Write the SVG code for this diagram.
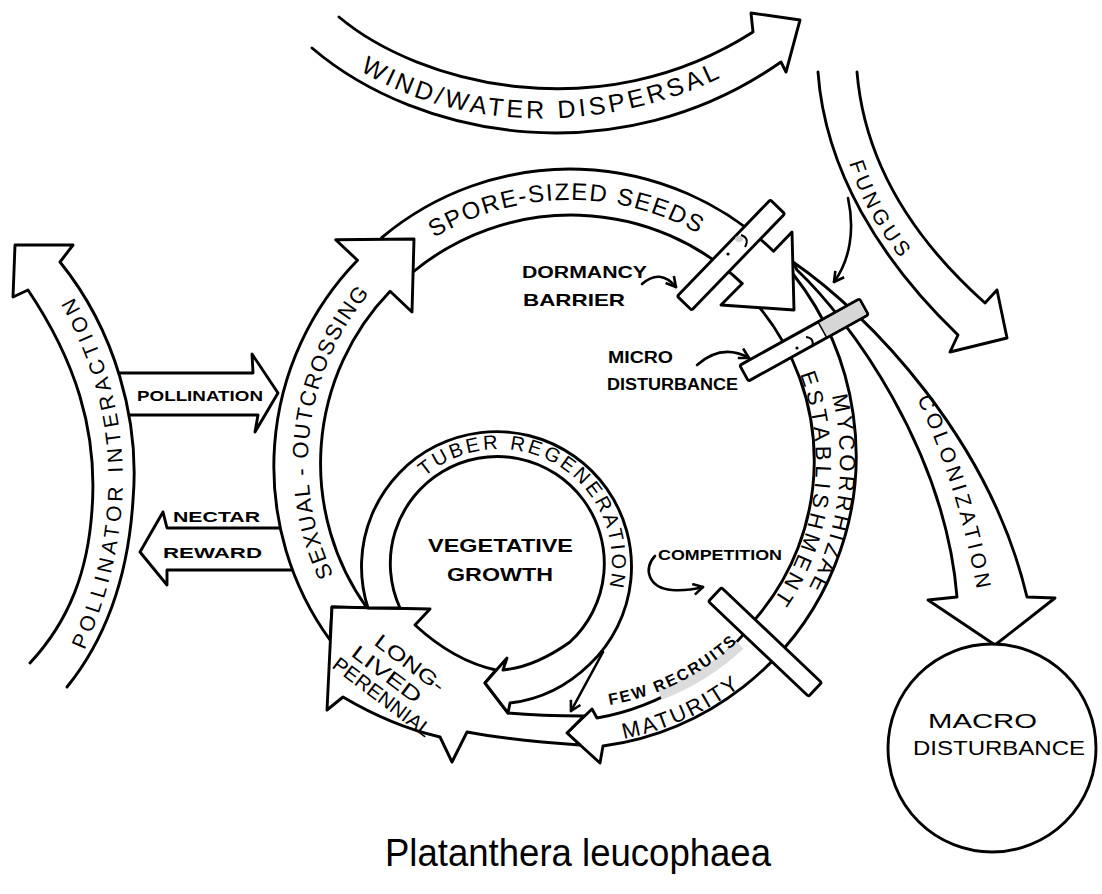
<svg xmlns="http://www.w3.org/2000/svg" width="1102" height="894" viewBox="0 0 1102 894">
<style>
.ln{fill:#fff;stroke:#000;stroke-width:2.9;stroke-linejoin:round;stroke-linecap:round}
.cn{fill:none;stroke:#000;stroke-width:2.6;stroke-linecap:round}
.t{font-family:"Liberation Sans",Arial,sans-serif;fill:#000}
.b{font-weight:bold}
</style>
<defs>
<marker id="ah" viewBox="0 0 12 12" refX="10" refY="6" markerWidth="13" markerHeight="13" markerUnits="userSpaceOnUse" orient="auto">
<path d="M1,1 L10,6 L1,11" fill="none" stroke="#000" stroke-width="2.4" stroke-linejoin="round"/>
</marker>
<path id="pWind" d="M 345,60 C 430,123 590,148 740,68"/>
<path id="pFun" d="M 843,140 Q 862,225 930,290"/>
<path id="pCol" d="M 890,350 C 928,410 965,505 982,620"/>
<path id="pPol" d="M 80,660 Q 172,460 66,284"/>
<path id="pSex" d="M 343.1,593 A 262 262 0 0 1 408.7,255.5"/>
<path id="pSpore" d="M 408.7,255.5 A 262 262 0 0 1 738.4,261.3"/>
<path id="pMyc1" d="M 776.8,288.4 A 270 270 0 0 1 743.6,668.8"/>
<path id="pMyc2" d="M 758.4,303.9 A 246 246 0 0 1 728.1,650.4"/>
<path id="pMat" d="M 545.4,742.9 A 282 282 0 0 0 786,643.3"/>
<path id="pFew" d="M 548.6,707.1 A 246 246 0 0 0 771.5,603.1"/>
<path id="pTub" d="M 392.8,523.4 A 113 113 0 1 1 585.6,634.6"/>
</defs>

<g id="wind-water-dispersal">
<path class="ln" d="M 339,17 C 420,85 600,130 753,32 L 751,13 L 800,20 L 786,72 L 781,62 C 620,175 420,140 312,48"/>
<text class="t" font-size="25" letter-spacing="3.5"><textPath href="#pWind" startOffset="50%" text-anchor="middle">WIND/WATER DISPERSAL</textPath></text>
</g>

<g id="fungus">
<path class="ln" d="M 818,72 C 825,170 880,260 958,335 L 950,352 L 1007,338 L 997,290 L 985,303 C 920,245 865,170 857,72"/>
<text class="t" font-size="21" letter-spacing="4"><textPath href="#pFun" startOffset="80" text-anchor="middle">FUNGUS</textPath></text>
</g>

<g id="pollination">
<path class="ln" d="M 118,373 L 253,373 L 252,354 L 278,393 L 255,432 L 258,415 L 126,415"/>
<text class="t b" x="137" y="401" font-size="14" textLength="126" lengthAdjust="spacingAndGlyphs">POLLINATION</text>
</g>

<g id="nectar-reward">
<path class="ln" d="M 286,528 L 167,528 L 163,512 L 140,552 L 167,585 L 167,570 L 296,570"/>
<text class="t b" x="173" y="522" font-size="15" textLength="87" lengthAdjust="spacingAndGlyphs">NECTAR</text>
<text class="t b" x="163" y="558" font-size="15" textLength="99" lengthAdjust="spacingAndGlyphs">REWARD</text>
</g>

<g id="pollinator-interaction">
<path class="ln" d="M 30,663 C 70,620 88,570 92,510 C 98,430 75,360 28,290 L 13,297 L 15,245 L 73,245 L 60,262 C 115,330 140,420 133,500 C 128,580 105,640 67,687"/>
<text class="t" font-size="21" letter-spacing="4.2"><textPath href="#pPol" startOffset="50%" text-anchor="middle">POLLINATOR INTERACTION</textPath></text>
</g>

<g id="colonization">
<path class="ln" d="M 793,262 C 870,315 990,440 1027,597 L 1055,598 L 995,645 L 928,600 L 957,597 C 945,450 850,320 797,270 Z"/>
<text class="t" font-size="21" letter-spacing="4"><textPath href="#pCol" startOffset="158" text-anchor="middle">COLONIZATION</textPath></text>
</g>

<g id="mycorrhizae-establishment-maturity">
<path class="ln" d="M 793,274 A 293 293 0 0 1 603,746 L 600,763 L 567,733 L 592,709 L 597,718 A 250 250 0 0 0 757,617 A 242 242 0 0 0 760,308 Z"/>
<text class="t" font-size="22" letter-spacing="3.5"><textPath href="#pMyc1" startOffset="222" text-anchor="middle">MYCORRHIZAE</textPath></text>
<text class="t" font-size="22" letter-spacing="4.5"><textPath href="#pMyc2" startOffset="202" text-anchor="middle">ESTABLISHMENT</textPath></text>
<text class="t" font-size="22" letter-spacing="2.5"><textPath href="#pMat" startOffset="144" text-anchor="middle">MATURITY</textPath></text>
<path d="M 660,695 A 247 247 0 0 0 740,645" fill="none" stroke="#dcdcdc" stroke-width="10"/>
<text class="t b" font-size="16" letter-spacing="2"><textPath href="#pFew" startOffset="134" text-anchor="middle">FEW RECRUITS</textPath></text>
</g>

<g id="spore-sized-seeds">
<path class="ln" d="M 381.7,237.6 A 293 293 0 0 1 773.5,251.2 L 792,232 L 794,310 L 721,305 L 742.3,283.6 A 248 248 0 0 0 413,272 Z"/>
<text class="t" font-size="24" letter-spacing="1.6"><textPath href="#pSpore" startOffset="170" text-anchor="middle">SPORE-SIZED SEEDS</textPath></text>
</g>

<g id="sexual-outcrossing">
<path class="ln" d="M 330,640 A 296 296 0 0 1 357.5,260.3 L 335.7,239.7 L 414,239 L 412,312 L 390.1,291.3 A 248 248 0 0 0 367,608 L 332,607 Z"/>
<text class="t" font-size="22" letter-spacing="1.6"><textPath href="#pSex" startOffset="171" text-anchor="middle">SEXUAL - OUTCROSSING</textPath></text>
</g>

<g id="long-lived-perennial">
<path class="ln" d="M 332,607 L 430,609 L 415,625 C 440,648 468,664 496,670 L 485,683 L 508,713 C 530,715 560,716 584,716 L 567,733 L 580,745 C 550,743 510,740 467,732 L 452,762 L 440,737 C 410,730 375,716 343,697 L 327,710 Z"/>
<text class="t" font-size="20" transform="translate(373,644) rotate(37)" textLength="82" lengthAdjust="spacingAndGlyphs">LONG-</text>
<text class="t" font-size="20" transform="translate(350,655) rotate(37)" textLength="82" lengthAdjust="spacingAndGlyphs">LIVED</text>
<text class="t" font-size="20" transform="translate(331,667) rotate(37)" textLength="118" lengthAdjust="spacingAndGlyphs">PERENNIAL</text>
</g>

<g id="tuber-regeneration">
<path class="ln" d="M 368,608 A 135 135 0 1 1 590,664 Q 555,698 510,703 L 508,713 L 485,683 L 507,658 L 503,670 Q 535,667 570,642 A 107 107 0 1 0 400,608 Z"/>
<text class="t" font-size="20" letter-spacing="3"><textPath href="#pTub" startOffset="200" text-anchor="middle">TUBER REGENERATION</textPath></text>
</g>

<g id="vegetative-growth">
<text class="t b" x="428" y="552" font-size="19" textLength="145" lengthAdjust="spacingAndGlyphs">VEGETATIVE</text>
<text class="t b" x="447" y="581" font-size="19" textLength="106" lengthAdjust="spacingAndGlyphs">GROWTH</text>
</g>

<g id="macro-disturbance">
<circle class="ln" cx="992" cy="748" r="104"/>
<text class="t" x="928" y="728" font-size="20" textLength="109" lengthAdjust="spacingAndGlyphs">MACRO</text>
<text class="t" x="913" y="755" font-size="20" textLength="172" lengthAdjust="spacingAndGlyphs">DISTURBANCE</text>
</g>

<g id="dormancy-barrier">
<rect class="ln" x="-67" y="-10" width="134" height="20" rx="2" transform="translate(731,255) rotate(-46)"/>
<ellipse cx="739" cy="239" rx="4" ry="3" fill="#cfcfcf"/>
<path d="M 741,235 Q 750,238 745,247" fill="none" stroke="#000" stroke-width="2"/>
<circle cx="728" cy="254" r="1.6" fill="#000"/>
<text class="t b" x="522" y="278" font-size="16" textLength="125" lengthAdjust="spacingAndGlyphs">DORMANCY</text>
<text class="t b" x="523" y="306" font-size="17" textLength="102" lengthAdjust="spacingAndGlyphs">BARRIER</text>
</g>

<g id="micro-disturbance">
<g transform="translate(804,340) rotate(-29)">
<rect class="ln" x="-68.5" y="-9" width="137" height="18" rx="2"/>
<rect x="21" y="-7.6" width="46" height="15.2" fill="#d6d6d6"/>
<path d="M 21,-9 L 21,9" stroke="#000" stroke-width="1.5"/>
</g>
<path d="M 806,337 Q 815,338 812,347" fill="none" stroke="#000" stroke-width="2"/>
<circle cx="797" cy="348" r="1.6" fill="#000"/>
<text class="t b" x="608" y="363" font-size="16" textLength="65" lengthAdjust="spacingAndGlyphs">MICRO</text>
<text class="t b" x="607" y="390" font-size="16" textLength="131" lengthAdjust="spacingAndGlyphs">DISTURBANCE</text>
</g>

<g id="competition">
<rect class="ln" x="-69" y="-9.5" width="138" height="19" rx="2" transform="translate(765,642) rotate(43.5)"/>
<text class="t b" x="658" y="560" font-size="15" textLength="124" lengthAdjust="spacingAndGlyphs">COMPETITION</text>
</g>

<g id="connectors">
<path class="cn" d="M 642,284 Q 660,268 676,287" marker-end="url(#ah)"/>
<path class="cn" d="M 697,365 Q 722,343 749,358" marker-end="url(#ah)"/>
<path class="cn" d="M 655,556 C 643,568 648,588 672,590 C 685,591 695,589 703,587" marker-end="url(#ah)"/>
<path class="cn" d="M 848,198 C 855,230 850,260 834,282" marker-end="url(#ah)"/>
<path class="cn" d="M 603,652 L 571,711" marker-end="url(#ah)"/>
</g>

<g id="title">
<text class="t" x="385" y="866" font-size="38" textLength="386" lengthAdjust="spacingAndGlyphs">Platanthera leucophaea</text>
</g>
</svg>
